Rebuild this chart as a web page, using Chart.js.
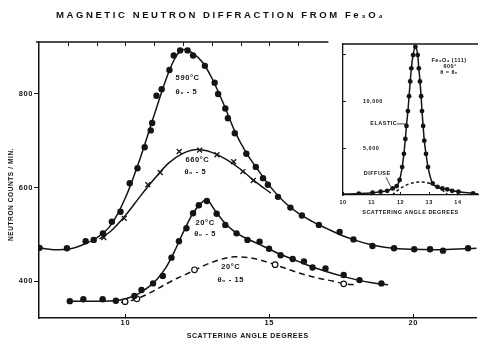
<!DOCTYPE html>
<html lang="es">
<head>
<meta charset="utf-8">
<title>Magnetic neutron diffraction from Fe3O4</title>
<script src="https://cdn.jsdelivr.net/npm/chart.js@4.4.1/dist/chart.umd.min.js"></script>
<style>
    html, body { margin: 0; padding: 0; background: #fff; }
    #contenedor { position: relative; width: 482px; height: 342px; overflow: hidden; }
    #titulo {
        position: absolute; left: 56px; top: 9px; margin: 0;
        font: bold 9.5px "Liberation Sans", sans-serif; letter-spacing: 2.6px;
        color: #111; white-space: nowrap;
    }
    #graficoPrincipal { position: absolute; left: 0; top: 0; }
    #graficoInserto { position: absolute; left: 335px; top: 40px; }
</style>
</head>
<body>
<div id="contenedor">
    <canvas id="graficoPrincipal" width="482" height="342"></canvas>
    <canvas id="graficoInserto" width="147" height="178"></canvas>
    <div id="titulo">MAGNETIC NEUTRON DIFFRACTION FROM Fe₃O₄</div>
</div>
<script>
// ---------- Datos del gráfico principal ----------
// 590°C, θ0 = 5 : puntos medidos
const ang590 = [7.02, 7.97, 8.62, 8.9, 9.22, 9.53, 9.83, 10.15, 10.42, 10.67, 10.88, 10.93, 11.08, 11.26, 11.53, 11.68, 11.9, 12.16, 12.35, 12.76, 13.1, 13.22, 13.47, 13.56, 13.8, 14.2, 14.53, 14.78, 14.95, 15.3, 15.73, 16.13, 16.72, 17.44, 17.92, 18.58, 19.33, 20.03, 20.58, 21.03, 21.9];
const cnt590 = [471, 470, 485, 488, 502, 527, 548, 609, 641, 686, 722, 738, 796, 810, 851, 882, 893, 893, 882, 860, 824, 800, 769, 748, 716, 672, 644, 620, 606, 580, 557, 540, 520, 505, 489, 475, 470, 468, 468, 465, 470];
// 590°C : curva trazada
const angCurva590 = [7.0, 7.5, 8.0, 8.5, 9.0, 9.5, 10.0, 10.5, 11.0, 11.5, 11.8, 12.05, 12.3, 12.7, 13.0, 13.4, 13.8, 14.2, 14.6, 15.0, 15.5, 16.0, 16.5, 17.0, 17.5, 18.0, 18.5, 19.0, 19.5, 20.0, 21.0, 22.2];
const cntCurva590 = [471, 467, 468, 477, 492, 520, 578, 660, 755, 846, 884, 895, 889, 866, 834, 780, 720, 674, 638, 604, 570, 545, 527, 512, 498, 487, 478, 472, 469, 468, 467, 470];

// 660°C, θ0 = 5 : cruces
const ang660 = [9.25, 9.96, 10.78, 11.21, 11.87, 12.58, 13.18, 13.76, 14.08, 14.44];
const cnt660 = [493, 534, 606, 632, 677, 680, 670, 655, 634, 615];
const angCurva660 = [9.1, 9.5, 10.0, 10.5, 11.0, 11.5, 12.0, 12.5, 13.0, 13.5, 14.0, 14.5, 15.05];
const cntCurva660 = [490, 507, 540, 580, 618, 652, 673, 681, 675, 660, 639, 613, 588];

// 20°C, θ0 = 5 : puntos llenos
const ang20a = [8.07, 8.54, 9.21, 9.67, 10.31, 10.56, 10.96, 11.3, 11.6, 11.86, 12.12, 12.35, 12.55, 12.83, 13.17, 13.47, 13.86, 14.24, 14.66, 14.99, 15.39, 15.81, 16.2, 16.5, 16.95, 17.58, 18.13, 18.89];
const cnt20a = [357, 361, 361, 358, 368, 381, 395, 411, 450, 485, 513, 545, 562, 571, 544, 520, 502, 488, 484, 469, 455, 447, 442, 429, 427, 413, 402, 395];
const angCurva20a = [8.07, 9.0, 9.6, 10.0, 10.4, 10.8, 11.1, 11.4, 11.7, 12.0, 12.3, 12.6, 12.82, 13.1, 13.4, 13.8, 14.2, 14.6, 15.0, 15.5, 16.0, 16.5, 17.0, 17.5, 18.0, 18.5, 19.12];
const cntCurva20a = [357, 357, 358, 362, 371, 387, 404, 428, 463, 503, 540, 565, 574, 552, 528, 505, 491, 480, 468, 454, 442, 430, 420, 411, 403, 397, 392];

// 20°C, θ0 = 15 : círculos abiertos y curva punteada
const ang20b = [9.99, 10.4, 12.4, 15.2, 17.58];
const cnt20b = [356, 362, 424, 435, 394];
const angCurva20b = [9.85, 10.3, 10.8, 11.3, 11.8, 12.3, 12.8, 13.3, 13.8, 14.3, 14.8, 15.2, 15.7, 16.2, 16.7, 17.2, 17.6, 18.0];
const cntCurva20b = [354, 360, 373, 390, 406, 420, 435, 446, 452, 450, 443, 435, 424, 414, 406, 400, 394, 392];

// Ejes
const ticksX = [10, 15, 20];
const ticksXArriba = [8, 9, 10, 11, 12, 13, 14, 15, 16];
const ticksY = [400, 600, 800];

// ---------- Datos del inserto (Fe3O4 (111), 600°) ----------
const angElastico = [10.55, 11.03, 11.31, 11.54, 11.73, 11.87, 11.97, 12.06, 12.12, 12.17, 12.21, 12.26, 12.3, 12.34, 12.38, 12.44, 12.52, 12.6, 12.64, 12.68, 12.72, 12.75, 12.79, 12.83, 12.89, 12.96, 13.12, 13.29, 13.46, 13.63, 13.8, 14.02, 14.53];
const cntElastico = [150, 240, 350, 450, 700, 950, 1600, 2980, 4390, 5970, 7370, 8950, 10530, 12110, 13510, 14920, 15800, 14920, 13510, 12110, 10530, 8950, 7370, 5790, 4390, 2980, 1230, 870, 700, 600, 450, 350, 180];
const angDifuso = [11.72, 11.9, 12.1, 12.3, 12.5, 12.7, 12.9, 13.1, 13.3, 13.5, 13.65];
const cntDifuso = [0, 500, 900, 1180, 1330, 1380, 1320, 1150, 850, 420, 0];
const ticksXInserto = [10, 11, 12, 13, 14];
const ticksYInserto = [5000, 10000, 15000];

const NEGRO = '#141414';
const FUENTE = '"Liberation Sans", "DejaVu Sans", sans-serif';

// Une dos arrays en puntos {x, y}
function puntos(xs, ys) {
    return xs.map((x, i) => ({ x: x, y: ys[i] }));
}

// Sin márgenes extra por las etiquetas en los extremos del eje
function sinRelleno(s) {
    s.paddingTop = 0;
    s.paddingBottom = 0;
    s.paddingLeft = 0;
    s.paddingRight = 0;
}

// Plugin: espaciado entre letras para todo el canvas
const espaciado = {
    id: 'espaciado',
    beforeDraw(chart, args, opts) {
        chart.ctx.letterSpacing = opts.valor || '0px';
    }
};

// Plugin: línea superior del marco con marcas hacia adentro
const bordeSuperior = {
    id: 'bordeSuperior',
    afterDraw(chart, args, opts) {
        if (!opts.ticks) return;
        const { ctx, chartArea } = chart;
        const x = chart.scales.x;
        const fin = opts.hasta !== undefined ? x.getPixelForValue(opts.hasta) : chartArea.right;
        ctx.save();
        ctx.strokeStyle = NEGRO;
        ctx.lineWidth = 1.5;
        ctx.beginPath();
        ctx.moveTo(chartArea.left - (opts.extra || 0), chartArea.top);
        ctx.lineTo(fin, chartArea.top);
        ctx.stroke();
        ctx.lineWidth = 1;
        ctx.beginPath();
        opts.ticks.forEach(v => {
            const px = Math.round(x.getPixelForValue(v)) + 0.5;
            ctx.moveTo(px, chartArea.top);
            ctx.lineTo(px, chartArea.top + 4);
        });
        ctx.stroke();
        ctx.restore();
    }
};

// Plugin: textos y flechas ubicados con las escalas del gráfico
const textos = {
    id: 'textos',
    afterDatasetsDraw(chart, args, opts) {
        const { ctx } = chart;
        const x = chart.scales.x, y = chart.scales.y;
        ctx.save();
        ctx.fillStyle = NEGRO;
        ctx.strokeStyle = NEGRO;
        ctx.textAlign = 'center';
        ctx.textBaseline = 'middle';
        ctx.font = opts.fuente;
        (opts.items || []).forEach(t => {
            ctx.fillText(t.texto, x.getPixelForValue(t.x), y.getPixelForValue(t.y));
        });
        ctx.lineWidth = 0.8;
        (opts.flechas || []).forEach(f => {
            ctx.beginPath();
            ctx.moveTo(x.getPixelForValue(f[0]), y.getPixelForValue(f[1]));
            ctx.lineTo(x.getPixelForValue(f[2]), y.getPixelForValue(f[3]));
            ctx.stroke();
        });
        ctx.restore();
    }
};

function serieCurva(xs, ys, guiones) {
    return {
        data: puntos(xs, ys),
        showLine: true,
        borderColor: NEGRO,
        borderWidth: 1.5,
        borderDash: guiones || [],
        pointRadius: 0,
        cubicInterpolationMode: 'monotone'
    };
}

function seriePuntos(xs, ys, estilo) {
    const base = { data: puntos(xs, ys), showLine: false, pointRadius: 3.2, pointBorderWidth: 0, pointBackgroundColor: NEGRO, pointBorderColor: NEGRO };
    return Object.assign(base, estilo || {});
}

// ---------- Gráfico principal ----------
new Chart(document.getElementById('graficoPrincipal').getContext('2d'), {
    type: 'scatter',
    data: {
        datasets: [
            seriePuntos(ang590, cnt590),
            seriePuntos(ang660, cnt660, { pointStyle: 'crossRot', pointRadius: 3.5, pointBorderWidth: 1.3 }),
            seriePuntos(ang20a, cnt20a),
            seriePuntos(ang20b, cnt20b, { pointRadius: 2.8, pointBorderWidth: 1.2, pointBackgroundColor: '#fff' }),
            serieCurva(angCurva590, cntCurva590),
            serieCurva(angCurva660, cntCurva660),
            serieCurva(angCurva20a, cntCurva20a),
            serieCurva(angCurva20b, cntCurva20b, [6, 4])
        ]
    },
    options: {
        responsive: false,
        animation: false,
        layout: { padding: { top: 42, left: 0, right: 0, bottom: 0 } },
        plugins: {
            legend: { display: false },
            tooltip: { enabled: false },
            espaciado: { valor: '0.6px' },
            bordeSuperior: { ticks: ticksXArriba, extra: 3, hasta: 17.05 },
            textos: {
                fuente: 'bold 7.5px ' + FUENTE,
                items: [
                    { texto: '590°C', x: 12.16, y: 834 },
                    { texto: 'θ₀ - 5', x: 12.12, y: 804 },
                    { texto: '660°C', x: 12.5, y: 659 },
                    { texto: 'θ₀ - 5', x: 12.43, y: 633 },
                    { texto: '20°C', x: 12.77, y: 524 },
                    { texto: 'θ₀ - 5', x: 12.77, y: 500 },
                    { texto: '20°C', x: 13.66, y: 430 },
                    { texto: 'θ₀ - 15', x: 13.66, y: 402 }
                ]
            }
        },
        scales: {
            x: {
                type: 'linear', position: 'bottom', min: 7, max: 22.2,
                afterBuildTicks: s => { s.ticks = ticksX.map(v => ({ value: v })); },
                afterFit: s => { s.height = 24; sinRelleno(s); },
                ticks: { color: NEGRO, font: { family: FUENTE, size: 7.5, weight: 'bold' }, padding: 4, maxRotation: 0 },
                grid: { drawOnChartArea: false, tickLength: -4, color: NEGRO, lineWidth: 1 },
                border: { color: NEGRO, width: 1.5 },
                title: {
                    display: true, text: 'SCATTERING ANGLE DEGREES        ', color: NEGRO,
                    font: { family: FUENTE, size: 7, weight: 'bold' }, padding: { top: 0, bottom: 2 }
                }
            },
            y: {
                type: 'linear', min: 321, max: 911,
                afterBuildTicks: s => { s.ticks = ticksY.map(v => ({ value: v })); },
                afterFit: s => { s.width = 39; sinRelleno(s); },
                ticks: { color: NEGRO, font: { family: FUENTE, size: 7.5, weight: 'bold' }, padding: 1 },
                grid: { drawOnChartArea: false, tickLength: 5, color: NEGRO, lineWidth: 1 },
                border: { color: NEGRO, width: 1.5 },
                title: {
                    display: true, text: 'NEUTRON COUNTS / MIN.            ', color: NEGRO,
                    font: { family: FUENTE, size: 6.5, weight: 'bold' }, padding: { top: 7, bottom: 0 }
                }
            }
        }
    },
    plugins: [espaciado, bordeSuperior, textos]
});

// ---------- Inserto ----------
new Chart(document.getElementById('graficoInserto').getContext('2d'), {
    type: 'scatter',
    data: {
        datasets: [
            seriePuntos(angElastico, cntElastico, { pointRadius: 2.4 }),
            serieCurva([10.0].concat(angElastico, [14.7]), [100].concat(cntElastico, [120])),
            serieCurva(angDifuso, cntDifuso, [3, 2.5])
        ]
    },
    options: {
        responsive: false,
        animation: false,
        layout: { padding: { top: 2, left: 0, right: 0, bottom: 0 } },
        plugins: {
            legend: { display: false },
            tooltip: { enabled: false },
            espaciado: { valor: '0.5px' },
            bordeSuperior: { ticks: [] },
            textos: {
                fuente: 'bold 5.5px ' + FUENTE,
                items: [
                    { texto: 'Fe₃O₄ (111)', x: 13.69, y: 14320 },
                    { texto: '600°', x: 13.73, y: 13690 },
                    { texto: 'θ = θ₀', x: 13.69, y: 13060 },
                    { texto: 'ELASTIC', x: 11.42, y: 7580 },
                    { texto: 'DIFFUSE', x: 11.19, y: 2320 }
                ],
                flechas: [
                    [11.88, 7580, 12.2, 7580],
                    [11.5, 1900, 11.66, 900]
                ]
            }
        },
        scales: {
            x: {
                type: 'linear', min: 10, max: 14.7,
                afterBuildTicks: s => { s.ticks = ticksXInserto.map(v => ({ value: v })); },
                afterFit: s => { s.height = 23; sinRelleno(s); },
                ticks: { color: NEGRO, font: { family: FUENTE, size: 5.5, weight: 'bold' }, padding: 7, maxRotation: 0 },
                grid: { drawOnChartArea: false, tickLength: -3, color: NEGRO, lineWidth: 1 },
                border: { color: NEGRO, width: 1.3 },
                title: {
                    display: true, text: 'SCATTERING ANGLE DEGREES', color: NEGRO,
                    font: { family: FUENTE, size: 5.5, weight: 'bold' }, padding: { top: 0, bottom: 2.5 }
                }
            },
            y: {
                type: 'linear', min: 0, max: 16100,
                afterBuildTicks: s => { s.ticks = ticksYInserto.map(v => ({ value: v })); },
                afterFit: s => { s.width = 8; sinRelleno(s); },
                ticks: {
                    mirror: true, padding: 20, color: NEGRO,
                    font: { family: FUENTE, size: 5.5, weight: 'bold' },
                    callback: v => (v === 15000 ? '' : v.toLocaleString('en-US'))
                },
                grid: { drawOnChartArea: false, tickLength: -3, color: NEGRO, lineWidth: 1 },
                border: { color: NEGRO, width: 1.3 }
            }
        }
    },
    plugins: [espaciado, bordeSuperior, textos]
});
</script>
</body>
</html>
